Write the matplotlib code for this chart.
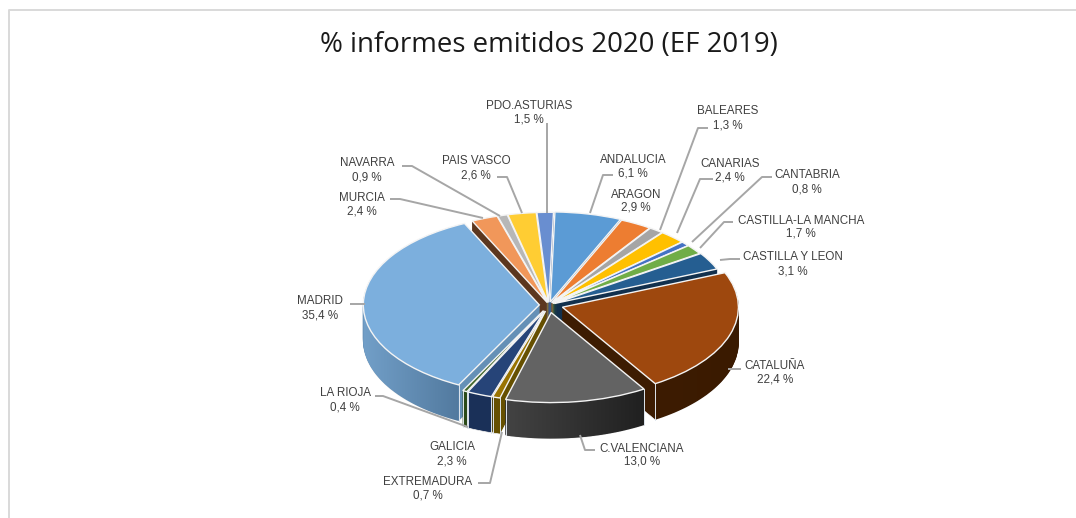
import numpy as np
import matplotlib
matplotlib.use("Agg")
import matplotlib.pyplot as plt
from matplotlib.colors import LinearSegmentedColormap
from matplotlib.patches import Polygon

regions = ["ANDALUCIA", "ARAGON", "BALEARES", "CANARIAS", "CANTABRIA", "CASTILLA-LA MANCHA",
           "CASTILLA Y LEON", "CATALUÑA", "C.VALENCIANA", "EXTREMADURA", "GALICIA", "LA RIOJA",
           "MADRID", "MURCIA", "NAVARRA", "PAIS VASCO", "PDO.ASTURIAS"]
values = [6.1, 2.9, 1.3, 2.4, 0.8, 1.7, 3.1, 22.4, 13.0, 0.7, 2.3, 0.4, 35.4, 2.4, 0.9, 2.6, 1.5]
top_colors = ["#5B9BD5", "#ED7D31", "#A5A5A5", "#FFC000", "#4472C4", "#70AD47", "#255E91", "#9E480E",
              "#636363", "#997300", "#264478", "#43682B", "#7CAFDD", "#F1975A", "#B7B7B7", "#FFCD33", "#698ED0"]
wall_colors = ["#35638d", "#8f4a1c", "#636363", "#997300", "#294577", "#43682b", "#12304d", "#3d1c02",
               "#303030", "#665000", "#1a3058", "#2b4a18", "#6590b6", "#5c371f", "#6e6e6e", "#99791a", "#3f5a8c"]
explode = [0.035, 0.03, 0.03, 0.03, 0.03, 0.03, 0.035, 0.08, 0.085, 0.07, 0.07, 0.07, 0.055, 0.03, 0.03, 0.03, 0.03]

W, H = 1076, 518
CX, CY, RX, RY, DEPTH = 549, 305, 176, 90, 36
START = 88.5


def to_data(px, py):
    return (np.asarray(px, float) - CX) / RX, (CY - np.asarray(py, float)) / RY


fig = plt.figure(figsize=(W / 100, H / 100), dpi=100, facecolor="white")
ax = fig.add_axes([0, 0, 1, 1])

# extruded side walls: stacked pies painted from the bottom upward
for k in range(DEPTH, 0, -1):
    wedges, _ = ax.pie(values, explode=explode, colors=wall_colors, startangle=START, counterclock=False,
                       center=(0, -k / RY), radius=1.0,
                       wedgeprops=dict(linewidth=0.6, edgecolor="#e8e8e8" if k == DEPTH else "none"))
    for w in wedges:
        w.set_zorder(10 + DEPTH - k)
        if k != DEPTH:
            w.set_edgecolor(w.get_facecolor())

# angular boundaries of each slice (clockwise from the top)
edges = np.cumsum([0] + values) / sum(values) * 2 * np.pi + np.radians(90 - START)
dz = DEPTH / RY


def offset(i):
    mid = 0.5 * (edges[i] + edges[i + 1])
    return explode[i] * np.sin(mid), explode[i] * np.cos(mid)


# horizontal shading of the three large front walls
shades = {12: ("#729fc8", "#527a9f"), 7: ("#3d1c02", "#3a1a00"), 8: ("#434343", "#202020")}
for i, (c0, c1) in shades.items():
    a = np.linspace(edges[i], edges[i + 1], 200)
    a = a[np.cos(a) <= 0.05]
    ox, oy = offset(i)
    xs = ox + np.sin(a)
    ys = oy + np.cos(a)
    poly = np.r_[np.c_[xs, ys], np.c_[xs[::-1], ys[::-1] - dz]]
    patch = Polygon(poly, closed=True, facecolor="none", edgecolor="none", transform=ax.transData)
    ax.add_patch(patch)
    cmap = LinearSegmentedColormap.from_list("s", [c0, c1])
    im = ax.imshow(np.linspace(0, 1, 128)[None, :], cmap=cmap, aspect="auto",
                   extent=(xs.min(), xs.max(), ys.min() - dz, ys.max()), zorder=60)
    im.set_clip_path(patch)

# pale vertical outlines where front walls end
for i in range(len(values)):
    for a in (edges[i], edges[i + 1]):
        if np.cos(a) < -0.2:
            ox, oy = offset(i)
            x = ox + np.sin(a)
            y = oy + np.cos(a)
            ax.plot([x, x], [y, y - dz], color="#dfe6ee", lw=0.7, zorder=61)

# top surface
wedges, _ = ax.pie(values, explode=explode, colors=top_colors, startangle=START, counterclock=False,
                   center=(0, 0), radius=1.0, wedgeprops=dict(linewidth=1.0, edgecolor="#f4f4f4"))
for w in wedges:
    w.set_zorder(70)

ax.set_aspect("auto")
ax.set_xlim(*to_data([0, W], [0, 0])[0])
ax.set_ylim(to_data(0, H)[1], to_data(0, 0)[1])
ax.axis("off")

# labels: centre x, first-line y, second-line y
label_pos = [(633, 160, 173), (636, 195, 208), (728, 111, 125), (730, 164, 178), (807, 175, 189),
             (801, 221, 234), (793, 257, 271), (775, 366, 380), (642, 449, 462), (428, 482, 495),
             (452, 447, 461), (345, 393, 407), (320, 301, 315), (362, 198, 212), (367, 163, 177),
             (476, 161, 175), (529, 106, 120)]
leaders = [[(613, 175), (603, 175), (590, 213)],
           None,
           [(708, 128), (698, 128), (660, 230)],
           [(713, 179), (700, 179), (677, 233)],
           [(772, 177), (762, 177), (692, 242)],
           [(733, 222), (724, 222), (700, 248)],
           [(740, 259), (730, 259), (720, 260)],
           [(741, 369), (728, 369)],
           [(595, 450), (585, 450), (580, 435)],
           [(478, 483), (490, 483), (502, 432)],
           None,
           [(375, 396), (383, 396), (468, 427)],
           [(350, 304), (365, 304)],
           [(390, 199), (400, 199), (483, 218)],
           [(402, 166), (412, 166), (500, 216)],
           [(497, 177), (507, 177), (522, 213)],
           [(547, 123), (547, 213)]]

for name, v, (lx, y1, y2), lead in zip(regions, values, label_pos, leaders):
    dx, dy1 = to_data(lx, y1)
    _, dy2 = to_data(lx, y2)
    ax.text(dx, dy1, name, ha="center", va="center", fontsize=8.4, color="#404040",
            family="Liberation Sans", zorder=90)
    ax.text(dx, dy2, f"{v:.1f} %".replace(".", ","), ha="center", va="center", fontsize=8.4,
            color="#404040", family="Liberation Sans", zorder=90)
    if lead:
        px, py = zip(*lead)
        lxs, lys = to_data(px, py)
        ax.plot(lxs, lys, color="#a6a6a6", lw=1.4, zorder=80, solid_capstyle="butt")

tx, ty = to_data(549, 45)
ax.text(tx, ty, "% informes emitidos 2020 (EF 2019)", ha="center", va="center", fontsize=19.9,
        color="#1a1a1a", family="Open Sans", zorder=90)

# chart frame fragments
fx, fy = to_data([9, 9, 1076], [518, 10, 10])
ax.plot(fx, fy, color="#d9d9d9", lw=1.4, zorder=5, clip_on=False)

fig.savefig("out.png", dpi=100, facecolor="white")
